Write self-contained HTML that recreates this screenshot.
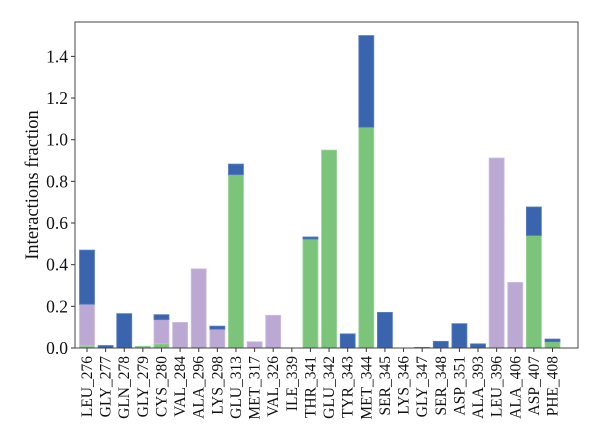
<!DOCTYPE html>
<html><head><meta charset="utf-8"><style>
html,body{margin:0;padding:0;background:#fff;}
svg{display:block;font-family:"Liberation Serif",serif;}
</style></head><body>
<svg id="chart" width="600" height="440" viewBox="0 0 600 440"></svg>
<script>
const categories=["LEU_276","GLY_277","GLN_278","GLY_279","CYS_280","VAL_284","ALA_296","LYS_298","GLU_313","MET_317","VAL_326","ILE_339","THR_341","GLU_342","TYR_343","MET_344","SER_345","LYS_346","GLY_347","SER_348","ASP_351","ALA_393","LEU_396","ALA_406","ASP_407","PHE_408"];
const greenVals=[0.01,0,0,0.008,0.02,0,0,0,0.832,0,0,0,0.523,0.95,0,1.06,0,0,0,0,0,0,0,0,0.54,0.03];
const purpleVals=[0.20,0,0,0,0.116,0.123,0.38,0.09,0,0.03,0.157,0,0,0,0,0,0,0,0,0,0,0,0.912,0.315,0,0];
const blueVals=[0.26,0.012,0.165,0,0.024,0,0,0.015,0.051,0,0,0,0.01,0,0.068,0.44,0.171,0,0.003,0.032,0.117,0.02,0,0,0.137,0.013];
const yTicks=[0,0.2,0.4,0.6,0.8,1.0,1.2,1.4];
const yTickLabels=["0.0","0.2","0.4","0.6","0.8","1.0","1.2","1.4"];

const NS="http://www.w3.org/2000/svg";
const svg=document.getElementById('chart');
const L=75,R=578,T=22,B=348;
const x0=87,step=18.62,bw=15;
const yPerUnit=208.3;
function xs(i){return x0+i*step;}
function ys(v){return B-v*yPerUnit;}
function mk(tag,attrs){const e=document.createElementNS(NS,tag);for(const k in attrs)e.setAttribute(k,attrs[k]);svg.appendChild(e);return e;}

const series=[[greenVals,"#7cc47a","#9bd499","green"],[purpleVals,"#bba9d4","#cdbfe0","purple"],[blueVals,"#3a64ad","#5a80c0","blue"]];
categories.forEach((c,i)=>{
  let base=0;
  series.forEach(([vals,fill,stroke,nm])=>{
    const v=vals[i];
    if(v>0){
      const r=mk('rect',{x:xs(i)-bw/2,y:ys(base+v),width:bw,height:v*yPerUnit,fill:fill,stroke:stroke,'stroke-width':0.8});
      
      
    }
    base+=v;
  });
  const t=mk('line',{x1:xs(i),x2:xs(i),y1:B,y2:B+4,stroke:'#333','stroke-width':1});
  
  
  const lb=mk('text',{transform:`translate(${xs(i)+5},${B+8}) rotate(-90)`,'text-anchor':'end','font-size':'15.5',fill:'#111'});
  lb.textContent=c;
  
  
});
yTicks.forEach((v,i)=>{
  const t=mk('line',{x1:L-4,x2:L,y1:ys(v),y2:ys(v),stroke:'#333','stroke-width':1});
  
  
  const lb=mk('text',{x:L-7,y:ys(v)+6,'text-anchor':'end','font-size':'17.5',fill:'#111'});
  lb.textContent=yTickLabels[i];
  
  
});
const fr=mk('rect',{x:L,y:T,width:R-L,height:B-T,fill:'none',stroke:'#444','stroke-width':1});


const yt=mk('text',{transform:'translate(38,185) rotate(-90)','text-anchor':'middle','font-size':'18.5',fill:'#111'});
yt.textContent='Interactions fraction';


</script>
</body></html>
